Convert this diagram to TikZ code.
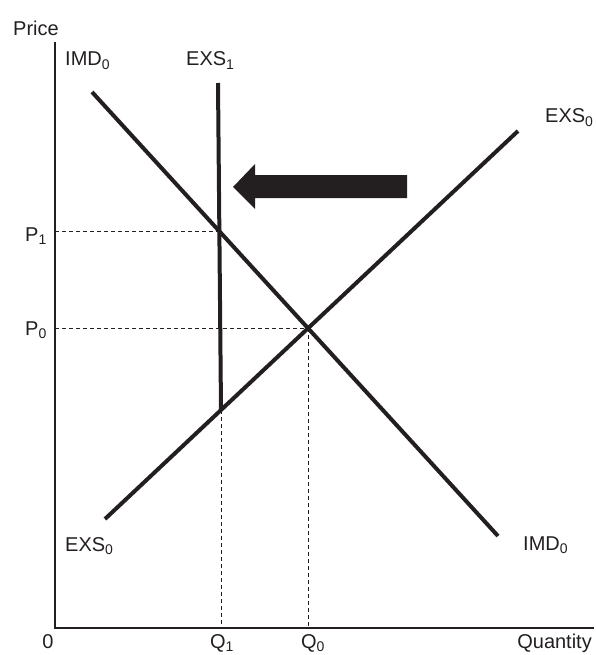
\documentclass[tikz,border=0pt]{standalone}
\usepackage{fontspec}
\setmainfont{Liberation Sans}
\usetikzlibrary{positioning,intersections}
\definecolor{ink}{HTML}{231F20}
\tikzset{
  curve/.style={draw=ink, line width=4pt},
  axis/.style={draw=ink, line width=2.5pt, line join=miter},
  guide/.style={draw=ink, line width=0.9pt, dash pattern=on 4pt off 3pt},
  lbl/.style={font=\fontsize{20}{24}\selectfont, text=ink, inner sep=0pt},
  shiftarrow/.style={fill=ink}
}

\begin{document}
\begin{tikzpicture}[x=1pt, y=-1pt]
\useasboundingbox (0,0) rectangle (595,655);
% axes
\coordinate (top) at (55,42);
\coordinate (origin) at (55,628);
\coordinate (right) at (594,628);
\draw[axis] (top) -- (origin) -- (right);
% curves
\coordinate (imdA) at (92,92);
\coordinate (imdB) at (498,536);
\coordinate (exsA) at (105,519);
\coordinate (exsB) at (518,131);
\coordinate (exsOneTop) at (218,83);
\coordinate (exsOneBot) at (221,410);
\draw[curve, name path=imd] (imdA) -- (imdB);
\draw[curve, name path=exs] (exsA) -- (exsB);
\draw[curve, name path=exsone] (exsOneTop) -- (exsOneBot);
\path[name intersections={of=imd and exs, by=eZero}];
\path[name intersections={of=imd and exsone, by=eOne}];
% guides
\draw[guide] (eOne -| origin) -- (eOne);
\draw[guide] (eZero -| origin) -- (eZero);
\draw[guide] (eZero) -- (eZero |- origin);
\draw[guide] (exsOneBot) -- (exsOneBot |- origin);
% shift of export supply
\fill[shiftarrow] (407,175) -- (255,175) -- (255,164) -- (233,187)
  -- (255,209) -- (255,198) -- (407,198) -- cycle;
% labels
\node[lbl, anchor=base west] (price) at (13,36) {Price};
\node[lbl, anchor=base west] (imdTop) at (65,66) {IMD\textsubscript{0}};
\node[lbl, anchor=base west] (exsOne) at (186,66) {EXS\textsubscript{1}};
\node[lbl, anchor=base west] (exsTop) at (545,123) {EXS\textsubscript{0}};
\node[lbl, anchor=base west] (exsLow) at (65,551) {EXS\textsubscript{0}};
\node[lbl, anchor=base west] (imdLow) at (523,550) {IMD\textsubscript{0}};
\node[lbl, anchor=base west] (pOne) at (25,241) {P\textsubscript{1}};
\node[lbl, anchor=base west] (pZero) at (25,335) {P\textsubscript{0}};
\node[lbl, anchor=base] (zero) at (48,648) {0};
\node[lbl, anchor=base] (qOne) at (222,648) {Q\textsubscript{1}};
\node[lbl, anchor=base] (qZero) at (313,648) {Q\textsubscript{0}};
\node[lbl, anchor=base east] (qty) at (592,648) {Quantity};
\end{tikzpicture}
\end{document}
